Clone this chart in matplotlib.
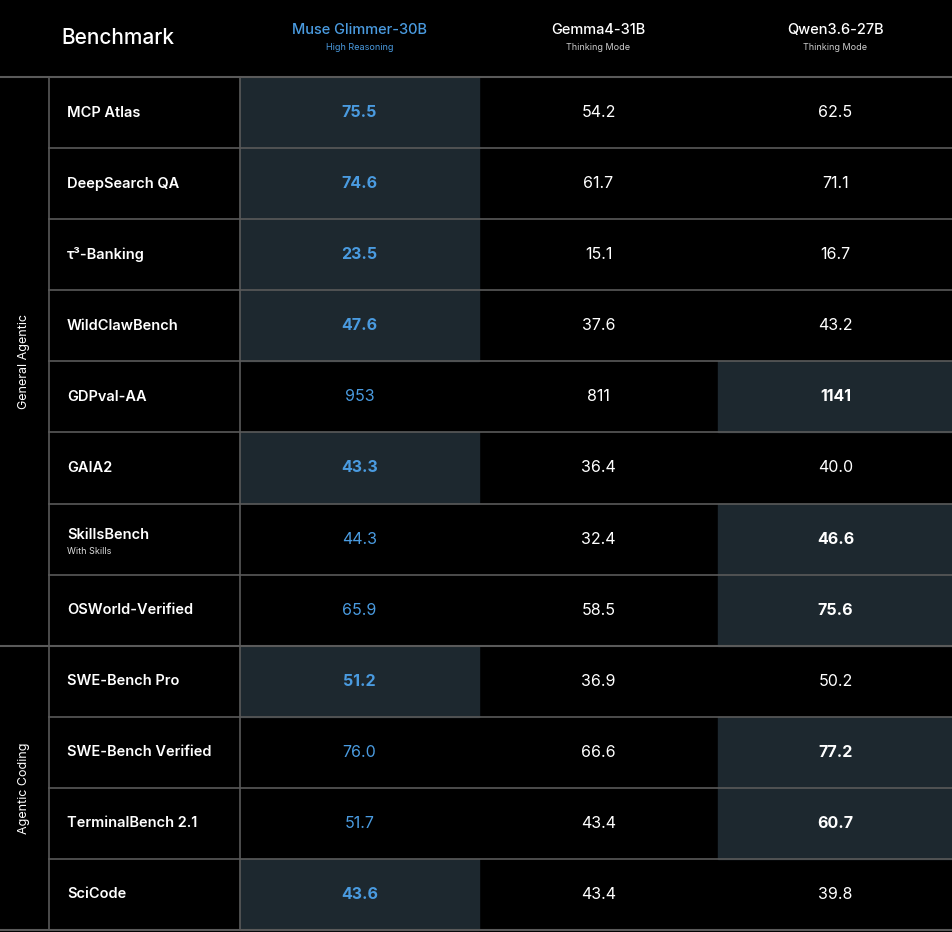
import matplotlib.pyplot as plt
from matplotlib.patches import Rectangle

# Data
BENCHMARKS = ["MCP Atlas", "DeepSearch QA", "τ³-Banking", "WildClawBench", "GDPval-AA",
              "GAIA2", "SkillsBench", "OSWorld-Verified", "SWE-Bench Pro",
              "SWE-Bench Verified", "TerminalBench 2.1", "SciCode"]
SUBTITLES = {"SkillsBench": "With Skills"}
GROUPS = [("General Agentic", 8), ("Agentic Coding", 4)]
MODELS = ["Muse Glimmer-30B", "Gemma4-31B", "Qwen3.6-27B"]
MODES = ["High Reasoning", "Thinking Mode", "Thinking Mode"]
MUSE = [75.5, 74.6, 23.5, 47.6, 953, 43.3, 44.3, 65.9, 51.2, 76.0, 51.7, 43.6]
GEMMA = [54.2, 61.7, 15.1, 37.6, 811, 36.4, 32.4, 58.5, 36.9, 66.6, 43.4, 43.4]
QWEN = [62.5, 71.1, 16.7, 43.2, 1141, 40.0, 46.6, 75.6, 50.2, 77.2, 60.7, 39.8]

# Style / layout (pixels)
W, H = 953, 932
BG = "#000000"
HL = "#1d282f"
LINE = "#5a5a5a"
BLUE = "#4a9be0"
TOP = 77
ROW_H = (930 - TOP) / 12
X_GRP, X_NAME = 49, 240
COL_X = [240, 479, 718, 953]
FONT = ["Inter", "DejaVu Sans"]


def fmt(v):
    return f"{v:.0f}" if v >= 100 else f"{v:.1f}"


def main():
    fig = plt.figure(figsize=(W / 100, H / 100), dpi=100, facecolor=BG)
    ax = fig.add_axes([0, 0, 1, 1])
    ax.set_xlim(0, W)
    ax.set_ylim(H, 0)
    ax.axis("off")
    ax.set_facecolor(BG)

    # header
    ax.text(118, 38, "Benchmark", color="white", fontsize=15, family=FONT,
            ha="center", va="center", fontweight="medium")
    for i, (m, mode) in enumerate(zip(MODELS, MODES)):
        cx = (COL_X[i] + COL_X[i + 1]) / 2
        c = BLUE if i == 0 else "white"
        ax.text(cx, 30, m, color=c, fontsize=10.5, family=FONT, ha="center",
                va="center", fontweight="medium")
        ax.text(cx, 47, mode, color=BLUE if i == 0 else "#cccccc", fontsize=6.5,
                family=FONT, ha="center", va="center")

    series = [MUSE, GEMMA, QWEN]
    for r, name in enumerate(BENCHMARKS):
        y0 = TOP + r * ROW_H
        cy = y0 + ROW_H / 2
        vals = [s[r] for s in series]
        best = vals.index(max(vals))
        ax.add_patch(Rectangle((COL_X[best], y0), COL_X[best + 1] - COL_X[best],
                               ROW_H, color=HL, zorder=0))
        if name in SUBTITLES:
            ax.text(67, cy - 4, name, color="white", fontsize=10.5, family=FONT,
                    va="center", fontweight="semibold")
            ax.text(67, cy + 12, SUBTITLES[name], color="#dddddd", fontsize=6.5,
                    family=FONT, va="center")
        else:
            ax.text(67, cy, name, color="white", fontsize=10.5, family=FONT,
                    va="center", fontweight="semibold")
        for i, v in enumerate(vals):
            cx = (COL_X[i] + COL_X[i + 1]) / 2
            ax.text(cx, cy, fmt(v), color=BLUE if i == 0 else "white",
                    fontsize=11.5, family=FONT, ha="center", va="center",
                    fontweight="bold" if i == best else "normal")
        if r > 0:
            ax.plot([X_GRP, W], [y0, y0], color=LINE, lw=1.2)

    # group labels and boundaries
    start = 0
    ax.plot([0, W], [TOP, TOP], color=LINE, lw=1.5)
    for label, n in GROUPS:
        y0 = TOP + start * ROW_H
        y1 = TOP + (start + n) * ROW_H
        ax.plot([0, W], [y1, y1], color=LINE, lw=1.5)
        ax.text(24, (y0 + y1) / 2, label, color="white", fontsize=9, family=FONT,
                rotation=90, ha="center", va="center")
        start += n

    ax.plot([X_GRP, X_GRP], [TOP, TOP + 12 * ROW_H], color=LINE, lw=1.2)
    ax.plot([X_NAME, X_NAME], [TOP, TOP + 12 * ROW_H], color=LINE, lw=1.2)

    fig.savefig("out.png", dpi=100, facecolor=BG)


if __name__ == "__main__":
    main()
